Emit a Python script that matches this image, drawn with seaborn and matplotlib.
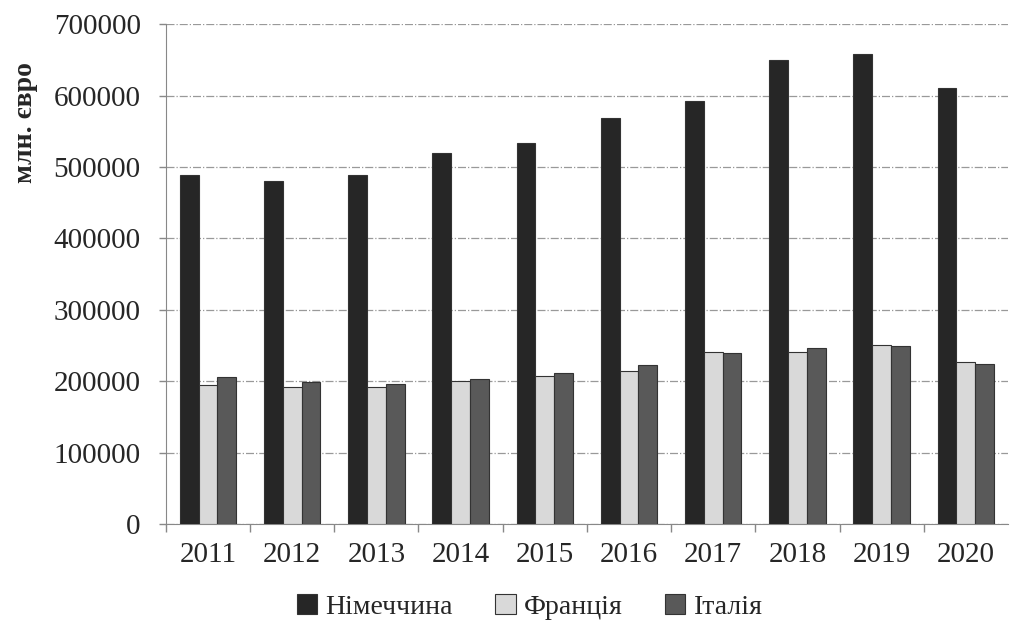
import pandas as pd
import matplotlib.pyplot as plt
import seaborn as sns
from matplotlib.ticker import FixedLocator

years = ['2011', '2012', '2013', '2014', '2015', '2016', '2017', '2018', '2019', '2020']
germany = [489000, 480000, 489000, 519000, 533000, 568000, 592000, 650000, 658000, 610000]
france = [194000, 192000, 192000, 200000, 207000, 214000, 241000, 241000, 251000, 227000]
italy = [206000, 199000, 196000, 203000, 211000, 223000, 240000, 246000, 249000, 224000]
countries = ['Німеччина', 'Франція', 'Італія']
colors = ['#262626', '#d9d9d9', '#595959']

df = pd.DataFrame({
    'year': years * 3,
    'value': germany + france + italy,
    'country': [countries[0]] * 10 + [countries[1]] * 10 + [countries[2]] * 10,
})

sns.set_style('white')
plt.rcParams['font.family'] = ['Liberation Serif', 'DejaVu Serif']

fig = plt.figure(figsize=(10.11, 6.2), dpi=100)
ax = fig.add_axes([0.164, 0.155, 0.833, 0.806])

sns.barplot(data=df, x='year', y='value', hue='country', palette=colors,
            width=0.67, gap=0, edgecolor='#333333', linewidth=0.8,
            saturation=1, ax=ax, zorder=3)

ax.set_ylim(0, 700000)
ax.set_yticks(range(0, 700001, 100000))
ax.set_yticklabels([str(v) for v in range(0, 700001, 100000)], fontsize=21)
ax.set_xlim(-0.5, 9.5)
ax.xaxis.set_minor_locator(FixedLocator([i - 0.5 for i in range(10)]))
ax.tick_params(axis='x', which='major', labelsize=21, length=0, pad=13)
ax.tick_params(axis='x', which='minor', bottom=True, length=6, width=1,
               color='#888888', direction='out')
ax.tick_params(axis='y', left=True, length=5, width=1, color='#888888',
               direction='out', pad=13)
ax.grid(axis='y', color='#999999', linestyle='-.', linewidth=0.9, zorder=0)
for s in ['top', 'right']:
    ax.spines[s].set_visible(False)
ax.spines['left'].set_color('#888888')
ax.spines['bottom'].set_color('#888888')
ax.set_xlabel('')
ax.set_ylabel('млн. євро', fontsize=20, fontweight='bold')
ax.yaxis.set_label_coords(-0.152, 0.804)

ax.legend(loc='upper center', bbox_to_anchor=(0.432, -0.09), ncol=3, frameon=False,
          fontsize=20, handlelength=0.75, handleheight=0.75, handletextpad=0.3,
          columnspacing=1.5)

fig.savefig('out.png', dpi=100)
